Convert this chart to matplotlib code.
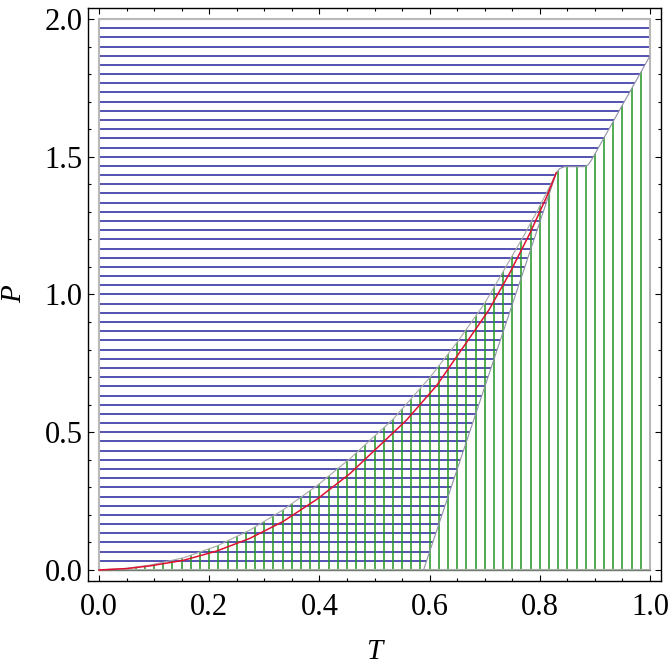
import numpy as np
import matplotlib
matplotlib.use("Agg")
import matplotlib.pyplot as plt
from matplotlib.patches import Polygon, Rectangle

# upper edge of the green region (grey curve)
gray_T = [0.000, 0.050, 0.093, 0.153, 0.214, 0.274, 0.334, 0.395, 0.456,
          0.534, 0.601, 0.652, 0.700, 0.734, 0.770, 0.794, 0.818, 0.830]
gray_P = [0.000, 0.006, 0.018, 0.044, 0.087, 0.145, 0.218, 0.305, 0.405,
          0.548, 0.700, 0.832, 0.968, 1.085, 1.210, 1.298, 1.392, 1.442]

# red curve
red_T = [0.000, 0.050, 0.093, 0.153, 0.214, 0.274, 0.334, 0.395, 0.455,
         0.558, 0.613, 0.667, 0.708, 0.746, 0.782, 0.8125, 0.830]
red_P = [0.000, 0.005, 0.015, 0.035, 0.069, 0.115, 0.176, 0.256, 0.349,
         0.544, 0.670, 0.826, 0.945, 1.080, 1.222, 1.355, 1.442]

# lower edge of the blue region
blue_T = [0.589, 0.830, 0.836, 0.845, 0.880, 0.888, 0.895, 1.000]
blue_P = [0.000, 1.442, 1.457, 1.464, 1.464, 1.471, 1.492, 1.866]

T_max = 1.0
P_max = 2.0

# mesh spacing
h_mesh = np.arange(1, 60) / 30.0
v_mesh = np.arange(1, 60) / 60.0

plt.rcParams['font.family'] = ['Liberation Serif', 'DejaVu Serif']

fig = plt.figure(figsize=(6.71, 6.66), dpi=100)
ax = fig.add_axes([0.13115, 0.12763, 0.85395, 0.86036])

# regions as clip paths
blue_poly = [(0, 0)] + list(zip(blue_T, blue_P)) + [(T_max, P_max), (0, P_max)]
green_poly = (list(zip(gray_T, gray_P)) + list(zip(blue_T[1:], blue_P[1:]))
              + [(T_max, 0)])

blue_patch = Polygon(blue_poly, closed=True, facecolor='none', edgecolor='none')
green_patch = Polygon(green_poly, closed=True, facecolor='none', edgecolor='none')
ax.add_patch(blue_patch)
ax.add_patch(green_patch)

hl = ax.hlines(h_mesh, 0, T_max, colors='#24249c', linewidth=1.1, zorder=2)
hl.set_clip_path(blue_patch)
vl = ax.vlines(v_mesh, 0, P_max, colors='#229622', linewidth=1.1, zorder=2)
vl.set_clip_path(green_patch)

# region boundaries
ax.add_patch(Rectangle((0, 0), T_max, P_max, fill=False,
                       edgecolor='#b8b8b8', linewidth=1.5, zorder=3))
ax.plot([0, T_max], [0, 0], color='#6f7f6f', linewidth=1.0, zorder=3)
ax.plot(gray_T, gray_P, color='#a8a8a8', linewidth=0.8, zorder=3)
ax.plot(blue_T, blue_P, color='#9090a8', linewidth=0.8, zorder=3)
ax.plot(red_T, red_P, color='#e01030', linewidth=1.1, zorder=4)

ax.set_xlim(-0.02, 1.02)
ax.set_ylim(-0.04, 2.04)

ax.set_xticks(np.arange(0, 1.01, 0.2))
ax.set_xticks(np.arange(0, 1.01, 0.05), minor=True)
ax.set_yticks(np.arange(0, 2.01, 0.5))
ax.set_yticks(np.arange(0, 2.01, 0.1), minor=True)
ax.set_xticklabels(['0.0', '0.2', '0.4', '0.6', '0.8', '1.0'])
ax.set_yticklabels(['0.0', '0.5', '1.0', '1.5', '2.0'])

ax.tick_params(which='both', direction='in', top=True, right=True,
               width=0.8, labelsize=22)
ax.tick_params(which='major', length=4)
ax.tick_params(which='minor', length=2.5)
ax.tick_params(axis='x', pad=9)
ax.tick_params(axis='y', pad=4)

for s in ax.spines.values():
    s.set_linewidth(1.0)

ax.set_xlabel('T', fontsize=21, fontstyle='italic', labelpad=12)
ax.set_ylabel('P', fontsize=21, fontstyle='italic', labelpad=12)

fig.savefig('out.png', dpi=100)
